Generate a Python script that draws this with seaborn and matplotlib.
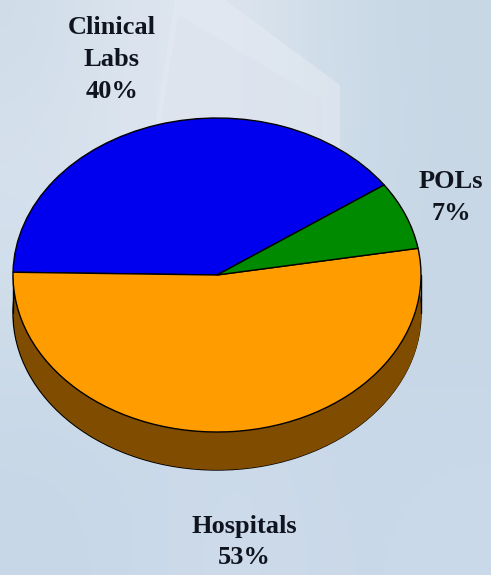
import matplotlib.pyplot as plt
import numpy as np
import seaborn as sns

categories = ["Clinical\nLabs", "Hospitals", "POLs"]
shares = [40, 53, 7]
colors = ["#0000ee", "#ff9c00", "#008a00"]
side_color = "#7f4c00"

# pixel geometry of the ellipse
W, H = 491, 575
cx, cy, rx, ry = 217, 275, 204, 157
depth = 38 / ry

sns.set_theme(style="white")
plt.rcParams["font.family"] = ["Liberation Serif", "DejaVu Serif"]

fig = plt.figure(figsize=(W / 100, H / 100), dpi=100)

# washed out backdrop
bg = fig.add_axes([0, 0, 1, 1], zorder=0)
backdrop = np.array([
    [[208, 221, 233], [222, 230, 240], [220, 228, 238], [204, 219, 232], [200, 215, 228]],
    [[214, 225, 237], [222, 230, 240], [220, 228, 239], [205, 220, 233], [199, 215, 229]],
    [[208, 222, 235], [210, 223, 235], [207, 221, 234], [201, 216, 230], [199, 215, 229]],
    [[202, 217, 232], [203, 218, 233], [203, 218, 233], [201, 216, 232], [201, 216, 232]],
    [[200, 215, 231], [202, 217, 233], [206, 219, 235], [201, 216, 232], [203, 218, 234]],
]) / 255
bg.imshow(backdrop, aspect="auto", interpolation="bicubic", extent=(0, W, H, 0))
bg.fill([175, 225, 340, 340, 145], [0, 0, 85, 190, 190], color="#e6ebf3", alpha=0.55, lw=0)
bg.fill([178, 322, 322, 150], [15, 100, 190, 190], color="#dbe2ed", alpha=0.6, lw=0)
bg.axis("off")

ax = fig.add_axes([0, 0, 1, 1], zorder=1)
ax.patch.set_alpha(0)

# side of the disc: bottom pie, then a band up to the top pie
ax.pie([1], colors=[side_color], center=(0, -depth),
       wedgeprops={"edgecolor": "black", "linewidth": 1}, frame=True)
t = np.linspace(-1, 1, 300)
ax.fill_between(t, -np.sqrt(1 - t ** 2) - depth + 0.004, np.sqrt(1 - t ** 2) - depth,
                color=side_color, lw=0, zorder=2)
ax.pie(shares, colors=colors, startangle=35, counterclock=True, frame=True,
       wedgeprops={"edgecolor": "black", "linewidth": 1, "zorder": 3})
for sign in (-1, 1):
    ax.plot([sign, sign], [0, -depth], color="black", lw=1, zorder=2)

ax.set_aspect("auto")
ax.set_xlim(-cx / rx, (W - cx) / rx)
ax.set_ylim(-(H - cy) / ry, cy / ry)
ax.axis("off")

label_pos = [(112, 60), (244, 542), (451, 197)]
for name, share, (px, py) in zip(categories, shares, label_pos):
    ax.text((px - cx) / rx, (cy - py) / ry, f"{name}\n{share}%", ha="center", va="center",
            fontsize=19, fontweight="bold", color="#10141f", linespacing=1.5, zorder=5)

fig.savefig("out.png", dpi=100)
